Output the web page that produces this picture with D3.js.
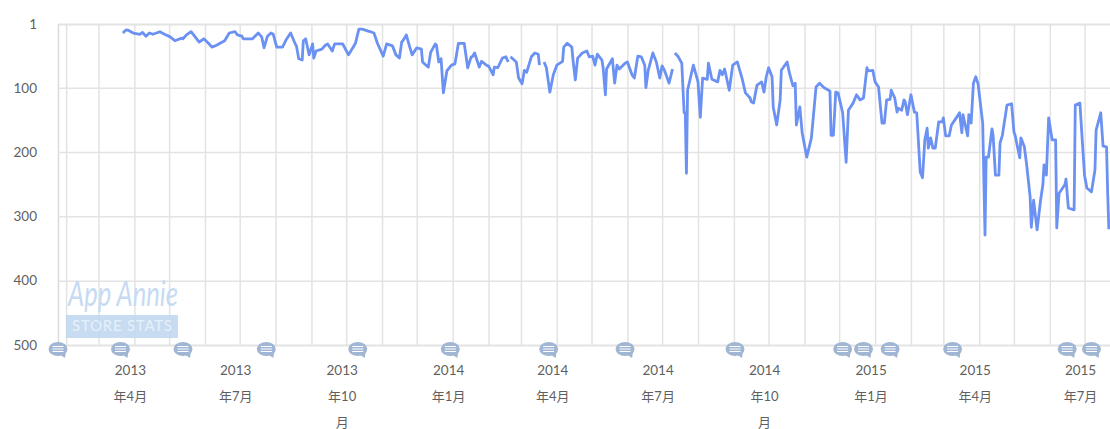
<!DOCTYPE html>
<html>
<head>
<meta charset="utf-8">
<script src="https://cdn.jsdelivr.net/npm/d3@7"></script>
<style>
  html, body { margin: 0; background: #fff; overflow: hidden; }
  text { font-family: Lato, "Noto Sans CJK SC", sans-serif; fill: #5f5f5f; }
</style>
</head>
<body>
<svg id="chart" width="1110" height="429"></svg>
<script>
// Rank history, days are counted from startDate, null marks a hole in the line
const startDate = new Date(2013, 1, 1);

const days = [
  49, 52, 54, 58, 64, 66, 69, 72, 75, 78, 81, 85, 90, 94, 100, 101, 104, 108, 111, 115, 119, 123, 126, 130, 133, 137,
  141, 146, 148, 152, 153, 157, 161, 166, 169, 171, 174, 177, 179, 182, 187, 190, 194, 198, 199, 201, 204, 205, 207,
  210, 212, 213, 214, 216, 221, 224, 226, 230, 232, 239, 244, 248, 250, 253, 256, 261,
  263, 266, 269, 274, 277, 282, 285, 288, 290, 291, 294, 296, 299, 303, 307, 308, 311, 313, 315, 319, 320, 322, 324,
  326, 329, 333, 336, 339, 344, 347, 350, 351, 353, 357, 359, 364, 365, 369, 370, 373, 377, 380, 382, 383,
  384, 389, 391, 394, 396, 398, 402, 405, 408, 409, 411,
  413, 415, 418, 421, 424, 429, 430, 433, 437, 438, 440, 442, 446, 450, 452, 455, 457, 459, 463, 464, 466, 467, 472,
  474, 476, 478, 483, 485, 489, 491, 494, 497, 500, 501, 503, 507, 510, 513, 515, 517, 521, 524, 525,
  526, 529, 532, 534, 535, 536, 537, 542, 546, 548, 550, 554, 555, 558, 563, 565, 567, 569, 573, 576, 580, 584, 587,
  591, 592, 594, 597, 601, 603, 605, 607, 610, 611, 614, 617, 618, 623, 625, 628, 630, 631, 634, 636, 640, 644, 648,
  651, 655, 660, 661, 663, 665, 667, 671, 674, 676, 680, 683, 686, 689, 692, 693, 697, 699, 702, 705, 707, 709, 712,
  713, 716, 718, 719, 722, 724, 725, 727, 730, 733, 735, 738, 740, 742, 744, 745, 747, 749, 751, 754, 757, 758, 760,
  763, 765, 768, 772, 774, 775, 779, 780, 782, 784, 786, 788, 792, 794, 795, 797, 800, 801, 803, 806, 807, 809, 813,
  817, 819, 820, 824, 825, 828, 830, 833, 834, 836, 839, 842, 844, 845, 847, 849, 852, 855, 856, 858, 863, 864, 866,
  871, 872, 876, 878, 880, 882, 886, 889, 890, 894, 896, 899, 900, 901, 902
];

const ranks = [
  15, 10, 11, 15, 17, 14, 20, 15, 17, 15, 13, 17, 21, 27, 23, 24, 18, 13, 20, 29, 24, 31, 37, 34, 31, 27,
  15, 13, 18, 20, 24, 24, 24, 15, 21, 38, 20, 15, 17, 37, 37, 26, 15, 32, 35, 55, 57, 27, 24,
  49, 38, 32, 54, 43, 40, 34, 32, 43, 32, 32, 49, 37, 31, 9, 9, 12,
  13, 15, 31, 51, 32, 35, 49, 54, 29, 27, 18, 31, 49, 38, 40, 60, 65, 68, 45, 32, 34, 60, 55,
  108, 74, 65, 63, 31, 31, 69, 52, 52, 46, 68, 59, 66, 66, 80, 68, 69, 54, 52, 60, null,
  52, 60, 85, 94, 73, 76, 52, 46, 48, 65, null,
  60, 69, 107, 80, 65, 59, 37, 31, 37, 57, 88, 54, 46, 43, 52, 51, 65, 48, 57, 69, 111, 71, 55,
  93, 65, 71, 62, 60, 80, 85, 51, 52, 65, 100, 73, 46, 60, 85, 66, 73, 93, 71, null,
  46, 52, 62, 139, 139, 233, 104, 65, 91, 146, 85, 87, 62, 87, 91, 73, 80, 71, 104, 65, 60, 85, 108,
  116, 122, 124, 96, 91, 107, 83, 69, 83, 130, 158, 119, 73, 60, 77, 97, 93, 158, 130, 170, 208, 178, 99,
  93, 100, 105, 174, 174, 107, 108, 139, 216, 135, 124, 111, 119, 116, 69, 74, 73, 91, 99, 155, 155, 119, 118,
  104, 116, 138, 132, 135, 119, 122, 142, 111, 138, 139, 231, 240, 181, 163, 194, 178, 194, 194, 153, 153, 147, 175,
  175, 158, 150, 139, 170, 142, 175, 142, 155, 93, 83, 94, 155, 329, 208, 208, 164, 174, 236, 236, 186, 174, 127,
  125, 169, 174, 209, 178, 192, 220, 270, 317, 275, 321, 275, 251, 220, 236, 147, 181, 181, 318, 264, 251, 242, 287,
  290, 127, 124, 181, 236, 256, 262, 228, 166, 139, 191, 192, 264, 320
];

const rankTicks = [1, 100, 200, 300, 400, 500];
const quarterDates = [
  new Date(2013, 3, 1), new Date(2013, 6, 1), new Date(2013, 9, 1), new Date(2014, 0, 1), new Date(2014, 3, 1),
  new Date(2014, 6, 1), new Date(2014, 9, 1), new Date(2015, 0, 1), new Date(2015, 3, 1), new Date(2015, 6, 1)
];
const quarterLabels = [
  ['2013', '年4月'], ['2013', '年7月'], ['2013', '年10', '月'], ['2014', '年1月'], ['2014', '年4月'],
  ['2014', '年7月'], ['2014', '年10', '月'], ['2015', '年1月'], ['2015', '年4月'], ['2015', '年7月']
];
// Annotation bubbles along the bottom axis
const flagDays = [-7, 47, 101, 173, 252, 332, 417, 483, 578, 671, 689, 712, 766, 865, 886];

const svg = d3.select('#chart');
const margin = { top: 24, right: 0, bottom: 84, left: 58 };
const width = 1110;
const height = 429;

const xScale = d3.scaleTime()
  .domain([d3.timeDay.offset(startDate, -7), d3.timeDay.offset(startDate, 902)])
  .range([margin.left, width - margin.right]);

const yScale = d3.scaleLinear()
  .domain([1, 500])
  .range([margin.top, height - margin.bottom]);

// Grid lines come from the axes
const monthTicks = d3.timeMonth.range(new Date(2013, 1, 1), new Date(2015, 7, 1));

const xAxis = svg.append('g')
  .attr('transform', `translate(0, ${height - margin.bottom})`)
  .call(d3.axisBottom(xScale).tickValues(monthTicks).tickSize(-(height - margin.top - margin.bottom)).tickFormat(''));
xAxis.select('.domain').remove();
xAxis.selectAll('line').attr('stroke', '#e3e3e3').attr('stroke-width', 1.5);

const yAxis = svg.append('g')
  .attr('transform', `translate(${margin.left}, 0)`)
  .call(d3.axisLeft(yScale).tickValues(rankTicks).tickSize(-(width - margin.left - margin.right)).tickPadding(21));
yAxis.select('.domain').attr('stroke', '#dcdcdc').attr('stroke-width', 1.5);
yAxis.selectAll('line').attr('stroke', '#e3e3e3').attr('stroke-width', 1.5);
yAxis.selectAll('text').attr('font-size', 13.5).style('font-family', 'Lato, sans-serif').attr('fill', '#5f5f5f');

// Watermark
svg.append('text')
  .attr('x', 68).attr('y', 306)
  .attr('textLength', 110).attr('lengthAdjust', 'spacingAndGlyphs')
  .attr('font-size', 35).attr('font-style', 'italic')
  .style('fill', '#c6dbf2').style('font-family', 'Lato, sans-serif')
  .text('App Annie');
svg.append('rect')
  .attr('x', 66).attr('y', 315).attr('width', 112).attr('height', 23)
  .attr('fill', '#bdd6ef').attr('opacity', 0.85);
svg.append('text')
  .attr('x', 122).attr('y', 331).attr('text-anchor', 'middle')
  .attr('textLength', 100)
  .attr('font-size', 15)
  .style('fill', '#e6f0fa')
  .text('STORE STATS');

// Rank line
const line = d3.line()
  .defined(d => d.rank !== null)
  .x(d => xScale(d.date))
  .y(d => yScale(d.rank));

svg.append('path')
  .datum(days.map((d, i) => ({ date: d3.timeDay.offset(startDate, d), rank: ranks[i] })))
  .attr('fill', 'none')
  .attr('stroke', '#6b91f2')
  .attr('stroke-width', 2.8)
  .attr('stroke-linejoin', 'round')
  .attr('d', line);

// Annotation bubbles
const flags = svg.append('g')
  .selectAll('g')
  .data(flagDays)
  .join('g')
  .attr('transform', d => `translate(${xScale(d3.timeDay.offset(startDate, d))}, ${yScale(500) + 4})`);

flags.append('ellipse')
  .attr('rx', 9.5).attr('ry', 7)
  .attr('fill', '#a0b6d3');

flags.append('path')
  .attr('d', 'M1,5 L7,9 L8,2 Z')
  .attr('fill', '#a0b6d3');

flags.selectAll('line')
  .data([-2.5, 0, 2.5])
  .join('line')
  .attr('x1', -5.5).attr('x2', 5.5)
  .attr('y1', d => d).attr('y2', d => d)
  .attr('stroke', '#fff')
  .attr('stroke-width', 1);

// Wrapped quarter labels
const labelGroups = svg.append('g')
  .selectAll('text')
  .data(quarterDates)
  .join('text')
  .attr('text-anchor', 'middle');

labelGroups.selectAll('tspan')
  .data((d, i) => quarterLabels[i].map(t => ({ date: d, text: t })))
  .join('tspan')
  .attr('x', d => xScale(d.date) - 4)
  .attr('y', (d, i) => 375 + i * 26)
  .attr('font-size', (d, i) => (i === 0 ? 13.5 : 13))
  .text(d => d.text);
</script>
</body>
</html>
